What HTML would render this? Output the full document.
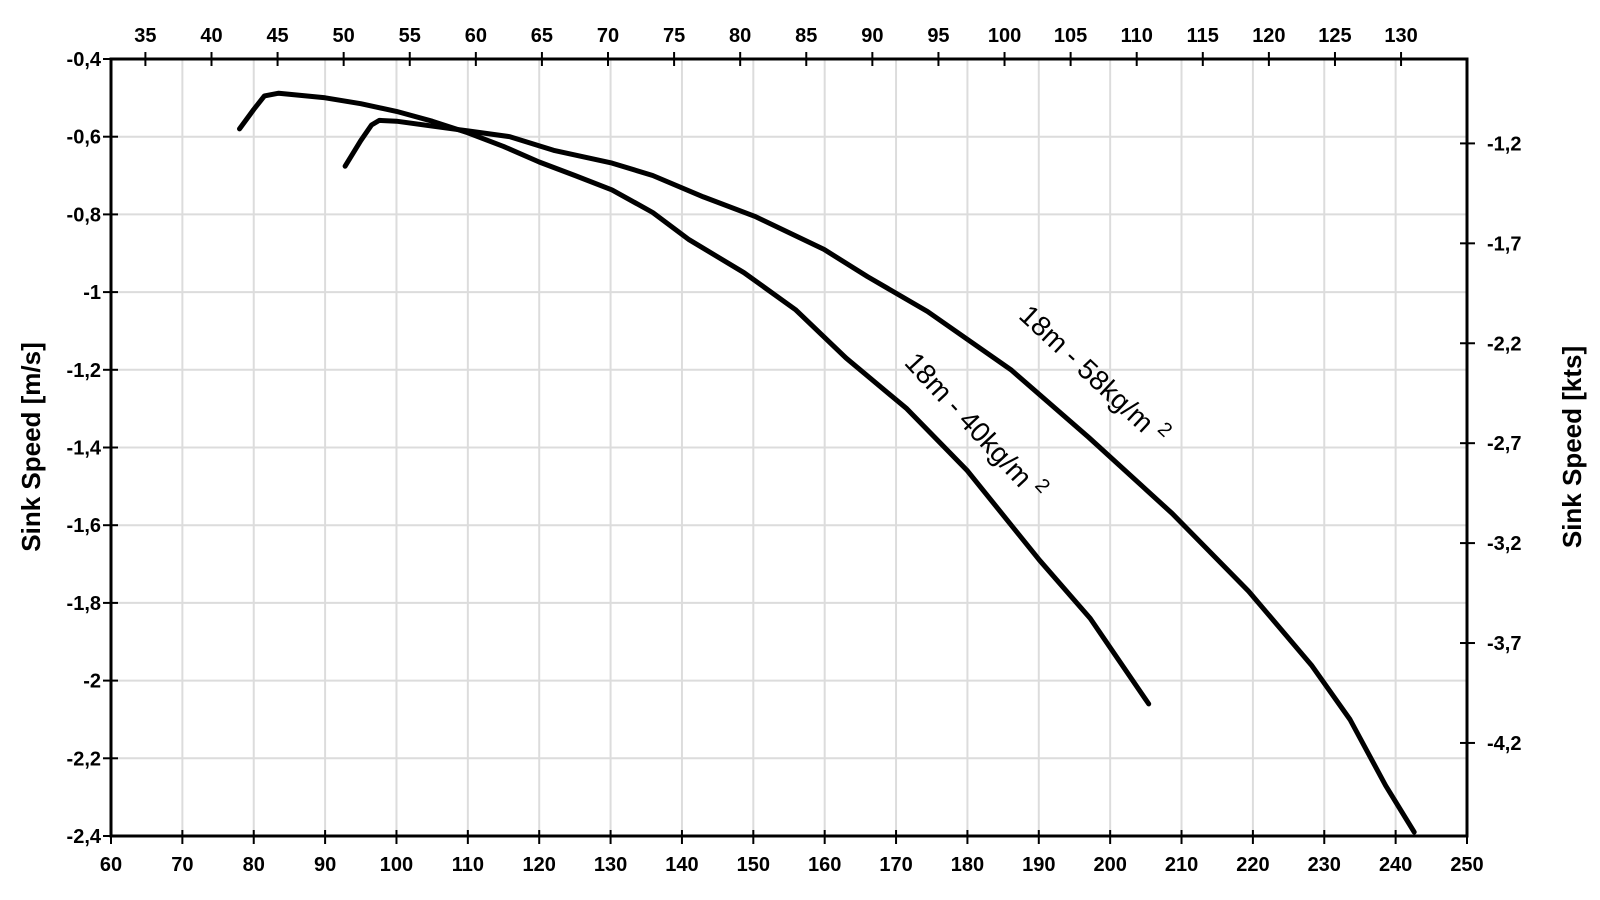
<!DOCTYPE html>
<html><head><meta charset="utf-8"><style>
html,body{margin:0;padding:0;background:#fff}
svg{display:block;font-family:"Liberation Sans",Arial,sans-serif}
</style></head><body>
<svg id="chart" width="1600" height="900" viewBox="0 0 1600 900" xmlns="http://www.w3.org/2000/svg"></svg>
<script>
const bottomTicks=[60,70,80,90,100,110,120,130,140,150,160,170,180,190,200,210,220,230,240,250];
const topTicks=[35,40,45,50,55,60,65,70,75,80,85,90,95,100,105,110,115,120,125,130];
const leftTicks=[-0.4,-0.6,-0.8,-1,-1.2,-1.4,-1.6,-1.8,-2,-2.2,-2.4];
const rightTicks=[-1.2,-1.7,-2.2,-2.7,-3.2,-3.7,-4.2];
const s40x=[78,80,81.5,83.5,90,95,100,105,110,115,120,125,130.2,135.9,141,148.7,155.9,163,171.5,180,190.1,197.2,205.4];
const s40y=[-0.58,-0.53,-0.495,-0.488,-0.50,-0.515,-0.535,-0.56,-0.59,-0.625,-0.665,-0.70,-0.737,-0.795,-0.865,-0.95,-1.045,-1.17,-1.30,-1.46,-1.69,-1.84,-2.06];
const s58x=[92.8,95,96.5,97.6,100,110,115.9,122,130.2,135.9,143,150.2,159.9,166,174.4,186.1,197,208.7,219.4,228.2,233.6,238.6,242.6];
const s58y=[-0.676,-0.61,-0.57,-0.558,-0.56,-0.585,-0.60,-0.635,-0.668,-0.70,-0.755,-0.805,-0.89,-0.96,-1.05,-1.20,-1.374,-1.57,-1.77,-1.96,-2.10,-2.27,-2.39];

const L=111,R=1467,T=59,B=836;
const x=v=>L+(v-60)/(250-60)*(R-L);
const y=v=>T+(-0.4-v)/(2.0)*(B-T);
const NS="http://www.w3.org/2000/svg";
const svg=document.getElementById('chart');
function mk(tag,attrs,parent){const e=document.createElementNS(NS,tag);for(const k in attrs)e.setAttribute(k,attrs[k]);(parent||svg).appendChild(e);return e;}
const fmt=v=>String(v).replace('.',',');

const grid=mk('g',{});


bottomTicks.slice(1,-1).forEach(v=>mk('line',{x1:x(v),x2:x(v),y1:T,y2:B,stroke:'#dcdcdc','stroke-width':2},grid));
leftTicks.slice(1,-1).forEach(v=>mk('line',{x1:L,x2:R,y1:y(v),y2:y(v),stroke:'#dcdcdc','stroke-width':2},grid));

const ax=mk('g',{});


mk('rect',{x:L,y:T,width:R-L,height:B-T,fill:'none',stroke:'#000','stroke-width':3},ax);

const bt=mk('g',{'font-size':20,'font-weight':'bold','text-anchor':'middle'});


bottomTicks.forEach(v=>{mk('line',{x1:x(v),x2:x(v),y1:B-6,y2:B+8,stroke:'#000','stroke-width':2},bt);const t=mk('text',{x:x(v),y:B+35},bt);t.textContent=v;});

const tt=mk('g',{'font-size':20,'font-weight':'bold','text-anchor':'middle'});


topTicks.forEach(v=>{const px=x(v*1.852);mk('line',{x1:px,x2:px,y1:T-7,y2:T+7,stroke:'#000','stroke-width':2},tt);const t=mk('text',{x:px,y:T-17},tt);t.textContent=v;});

const lt=mk('g',{'font-size':20,'font-weight':'bold','text-anchor':'end'});


leftTicks.forEach(v=>{mk('line',{x1:L-8,x2:L+7,y1:y(v),y2:y(v),stroke:'#000','stroke-width':2},lt);const t=mk('text',{x:L-10,y:y(v)+7},lt);t.textContent=fmt(v);});

const rt=mk('g',{'font-size':20,'font-weight':'bold','text-anchor':'start'});


rightTicks.forEach(v=>{const py=y(v*0.5144);mk('line',{x1:R-7,x2:R+8,y1:py,y2:py,stroke:'#000','stroke-width':2},rt);const t=mk('text',{x:R+20,y:py+7},rt);t.textContent=fmt(v);});

const yl=mk('text',{x:0,y:0,transform:'translate(40,447) rotate(-90)','font-size':26,'font-weight':'bold','text-anchor':'middle'});


yl.textContent='Sink Speed [m/s]';
const yr=mk('text',{x:0,y:0,transform:'translate(1581,447) rotate(-90)','font-size':26,'font-weight':'bold','text-anchor':'middle'});


yr.textContent='Sink Speed [kts]';

function line(xs,ys,name){
  const d=xs.map((v,i)=>(i?'L':'M')+x(v).toFixed(1)+' '+y(ys[i]).toFixed(1)).join(' ');
  const p=mk('path',{d:d,fill:'none',stroke:'#000','stroke-width':5,'stroke-linejoin':'round','stroke-linecap':'round'});
  
  
}
line(s40x,s40y,'series-40kg');
line(s58x,s58y,'series-58kg');

const l1=mk('text',{x:0,y:0,transform:'translate(968,433) rotate(47)','font-size':28,'text-anchor':'middle'});


l1.innerHTML='18m - 40kg/m <tspan dy="-12" font-size="20">2</tspan>';
const l2=mk('text',{x:0,y:0,transform:'translate(1087,382) rotate(43)','font-size':28,'text-anchor':'middle'});


l2.innerHTML='18m - 58kg/m <tspan dy="-12" font-size="20">2</tspan>';
</script>
</body></html>
